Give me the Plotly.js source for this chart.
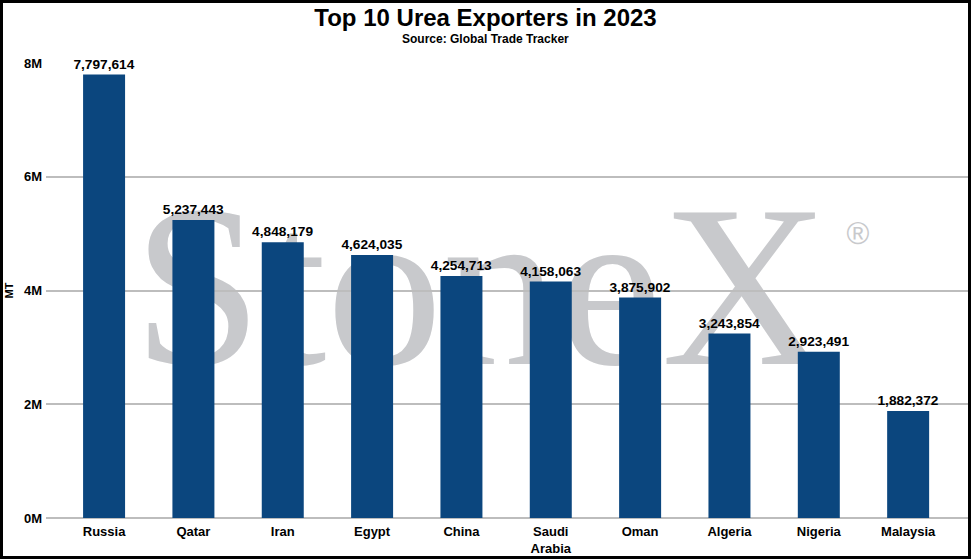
<!DOCTYPE html>
<html>
<head>
<meta charset="utf-8">
<script src="https://cdn.plot.ly/plotly-3.0.1.min.js"></script>
<style>
  html, body { margin: 0; padding: 0; background: #ffffff; }
  #wrap { position: relative; width: 971px; height: 559px; overflow: hidden; background: #ffffff; }
  #wm { position: absolute; left: 0; top: 0; z-index: 0; }
  #chart { position: absolute; left: 0; top: 0; width: 971px; height: 559px; z-index: 1; }
  #frame { position: absolute; left: 0; top: 0; width: 971px; height: 559px; box-sizing: border-box;
           border: 3px solid #000; z-index: 2; pointer-events: none; }
</style>
</head>
<body>
<div id="wrap">
  <svg id="wm" width="971" height="559" xmlns="http://www.w3.org/2000/svg">
    <text x="133" y="364" font-family="'Liberation Serif', 'Times New Roman', serif" font-size="232" fill="#c8c9cc">StoneX</text>
    <text x="858" y="244" text-anchor="middle" font-family="'Liberation Sans', Arial, sans-serif" font-size="31" fill="#c8c9cc">®</text>
  </svg>
  <div id="chart"></div>
  <div id="frame"></div>
</div>
<script>
const categories = ['Russia', 'Qatar', 'Iran', 'Egypt', 'China', 'Saudi<br>Arabia', 'Oman', 'Algeria', 'Nigeria', 'Malaysia'];
const exportsMT = [7797614, 5237443, 4848179, 4624035, 4254713, 4158063, 3875902, 3243854, 2923491, 1882372];
const yTickVals = [0, 2000000, 4000000, 6000000, 8000000];
const yTickText = ['0M', '2M', '4M', '6M', '8M'];

const FONT = "'Liberation Sans', Arial, sans-serif";

const trace = {
  type: 'bar',
  x: categories,
  y: exportsMT,
  marker: { color: '#0b467e' },
  texttemplate: '%{y:,}',
  textposition: 'outside',
  constraintext: 'none',
  cliponaxis: false,
  textfont: { family: FONT, size: 13.7, color: '#000', weight: 'bold' },
  hoverinfo: 'x+y'
};

const layout = {
  width: 971,
  height: 559,
  paper_bgcolor: 'rgba(0,0,0,0)',
  plot_bgcolor: 'rgba(0,0,0,0)',
  margin: { l: 46, r: 3, t: 63, b: 41 },
  bargap: 0.53,
  showlegend: false,
  title: {
    text: 'Top 10 Urea Exporters in 2023',
    font: { family: FONT, size: 24, color: '#000', weight: 'bold' },
    x: 0.5, xref: 'container', xanchor: 'center',
    y: 1 - 18 / 559, yref: 'container', yanchor: 'middle'
  },
  annotations: [{
    text: 'Source: Global Trade Tracker',
    xref: 'paper', yref: 'paper',
    x: (485.5 - 46) / 922, y: 1 + (63 - 39) / 455,
    xanchor: 'center', yanchor: 'middle',
    showarrow: false,
    font: { family: FONT, size: 12, color: '#000', weight: 'bold' }
  }],
  xaxis: {
    type: 'category',
    range: [-0.65, 9.67],
    showgrid: false,
    showline: false,
    zeroline: false,
    ticks: '',
    ticklabelstandoff: 4,
    tickfont: { family: FONT, size: 13, color: '#000', weight: 'bold' },
    fixedrange: true
  },
  yaxis: {
    range: [0, 8000000],
    tickvals: yTickVals,
    ticktext: yTickText,
    showgrid: true,
    gridcolor: '#bdbdbd',
    gridwidth: 2,
    zeroline: true,
    zerolinecolor: '#bdbdbd',
    zerolinewidth: 2,
    showline: false,
    ticks: '',
    ticklabelstandoff: 3,
    tickfont: { family: FONT, size: 13, color: '#000', weight: 'bold' },
    title: {
      text: 'MT',
      font: { family: FONT, size: 11, color: '#000', weight: 'bold' },
      standoff: 8
    },
    fixedrange: true
  }
};

Plotly.newPlot('chart', [trace], layout, { displayModeBar: false, staticPlot: true });
</script>
</body>
</html>
